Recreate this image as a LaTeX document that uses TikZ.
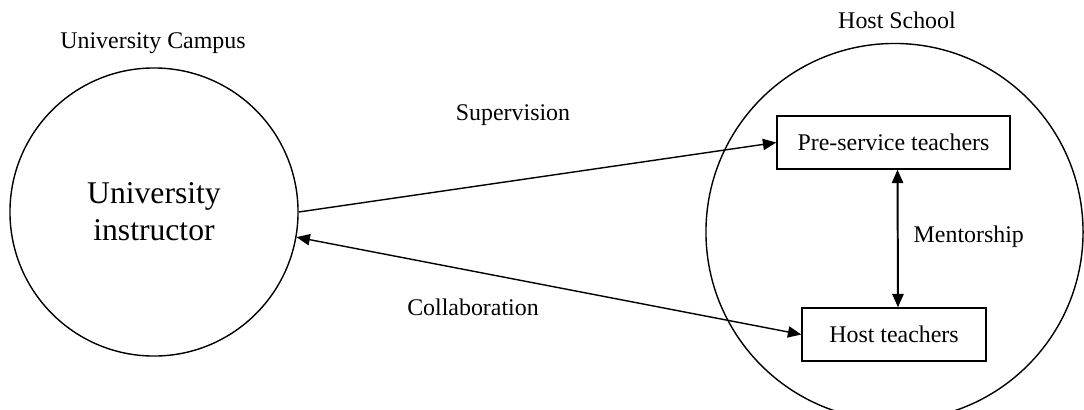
\documentclass[tikz,border=0pt]{standalone}
\usepackage{fontspec}
\setmainfont{Liberation Serif}
\usepackage{tikz}
\usetikzlibrary{arrows.meta, positioning, calc}

\begin{document}
\begin{tikzpicture}[x=0.025cm, y=-0.025cm, line width=1pt,
      >={Triangle[length=9.5pt, width=8pt]},
      lbl/.style={font=\fontsize{17}{20}\selectfont, inner sep=0pt},
      box/.style={draw, rectangle, inner sep=0pt,
            font=\fontsize{17}{20}\selectfont}]
    \useasboundingbox (0,0) rectangle (1084,409);
    % the two sites
    \node[circle, draw, minimum size=7.2cm, inner sep=0pt, align=center,
          font=\fontsize{22.5}{26.5}\selectfont] (ui) at (154,212)
          {University\\instructor};
    \node[circle, draw, minimum size=9.425cm, inner sep=0pt] (hs) at (894.5,232) {};
    \node[lbl] (uc) at (153,43) {University Campus};
    \node[lbl] (hsl) at (897,20) {Host School};
    % people at the host school
    \node[box, minimum width=5.825cm, minimum height=1.325cm] (pst) at (893.5,142.5)
          {Pre-service teachers};
    \node[box, minimum width=4.6cm, minimum height=1.325cm] (ht) at (894,334.5)
          {Host teachers};
    % relations
    \draw[->] (ui.east) -- (pst.west);
    \draw[<->] (ui.-10) -- (ht.west);
    \draw[<->, line width=1.4pt] ([xshift=0.1cm]pst.south) -- ([xshift=0.1cm]ht.north);
    \node[lbl] (sup) at (513,115) {Supervision};
    \node[lbl] (col) at (473,307) {Collaboration};
    \node[lbl, anchor=west] (men) at (913,237) {Mentorship};
  \end{tikzpicture}
\end{document}
